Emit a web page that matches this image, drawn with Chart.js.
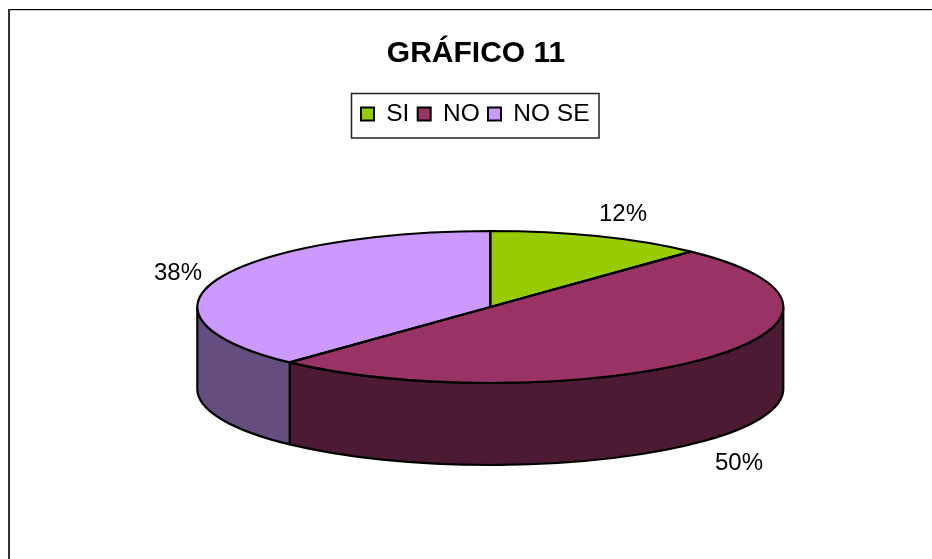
<!DOCTYPE html>
<html>
<head>
<meta charset="utf-8">
<style>html,body{margin:0;padding:0;background:#fff}canvas{display:block}</style>
<script src="https://cdn.jsdelivr.net/npm/chart.js@4"></script>
</head>
<body>
<canvas id="c" width="932" height="559"></canvas>
<script>
const categories = ['SI', 'NO', 'NO SE'];
const values = [12, 50, 38];
const colors = ['#99CC00', '#993366', '#CC99FF'];
const sideColors = ['#4D6600', '#4D1A33', '#664D80'];
const titleText = 'GRÁFICO 11';
const labelSpots = [[623, 214], [739, 463], [178, 273]];

const CX = 490.3, CY = 307, RX = 293, RY = 76, DEPTH = 82;
const FONT = '"Liberation Sans", Arial, sans-serif';

const pie3d = {
  id: 'pie3d',
  afterLayout(chart) {
    chart.chartArea = {left: CX - 300, right: CX + 300, top: CY - 300, bottom: CY + 300, width: 600, height: 600};
    const t = chart.titleBlock;
    t.left = 376; t.right = 576; t.top = 36; t.bottom = 76;
    const l = chart.legend;
    l.left = 352.7; l.right = 600; l.top = 93.5; l.bottom = 138;
  },
  beforeDraw(chart) {
    const ctx = chart.ctx;
    ctx.save();
    ctx.fillStyle = '#fff';
    ctx.fillRect(0, 0, 932, 559);
    ctx.fillStyle = '#000';
    ctx.fillRect(8, 9, 924, 1);
    ctx.fillStyle = '#c8c8c8';
    ctx.fillRect(10, 10, 922, 1);
    ctx.fillStyle = '#333';
    ctx.fillRect(8, 9, 2, 550);
    ctx.strokeStyle = '#222';
    ctx.lineWidth = 1.5;
    ctx.strokeRect(351.5, 93.5, 247.5, 44.5);
    ctx.restore();
  },
  beforeDatasetsDraw(chart) {
    const ctx = chart.ctx;
    const arcs = chart.getDatasetMeta(0).data;
    ctx.save();
    ctx.lineWidth = 2.2;
    ctx.strokeStyle = '#000';
    ctx.lineJoin = 'round';
    arcs.forEach((arc, i) => {
      const a = Math.max(arc.startAngle, 0), b = Math.min(arc.endAngle, Math.PI);
      if (b <= a) return;
      ctx.beginPath();
      ctx.ellipse(arc.x, arc.y, RX, RY, 0, a, b);
      ctx.ellipse(arc.x, arc.y + DEPTH, RX, RY, 0, b, a, true);
      ctx.closePath();
      ctx.fillStyle = sideColors[i];
      ctx.fill();
      ctx.stroke();
    });
    ctx.restore();
    ctx.save();
    ctx.translate(CX, CY);
    ctx.scale(1, RY / RX);
    ctx.translate(-CX, -CY);
  },
  afterDatasetsDraw(chart) {
    const ctx = chart.ctx;
    ctx.restore();
    const arcs = chart.getDatasetMeta(0).data;
    const total = values.reduce((s, v) => s + v, 0);
    ctx.save();
    ctx.lineWidth = 2.2;
    ctx.strokeStyle = '#000';
    ctx.lineJoin = 'round';
    arcs.forEach((arc) => {
      ctx.beginPath();
      ctx.moveTo(arc.x, arc.y);
      ctx.ellipse(arc.x, arc.y, RX, RY, 0, arc.startAngle, arc.endAngle);
      ctx.closePath();
      ctx.stroke();
    });
    ctx.fillStyle = '#000';
    ctx.font = '24px ' + FONT;
    ctx.textAlign = 'center';
    ctx.textBaseline = 'middle';
    values.forEach((v, i) => {
      ctx.fillText(Math.round(v / total * 100) + '%', labelSpots[i][0], labelSpots[i][1]);
    });
    ctx.restore();
  }
};

new Chart(document.getElementById('c'), {
  type: 'pie',
  plugins: [pie3d],
  data: {
    labels: categories,
    datasets: [{data: values, backgroundColor: colors, borderWidth: 0, radius: RX}]
  },
  options: {
    responsive: false,
    devicePixelRatio: 1,
    animation: false,
    events: [],
    layout: {padding: 0},
    plugins: {
      tooltip: {enabled: false},
      title: {
        display: true,
        text: titleText,
        color: '#000',
        padding: 0,
        font: {family: FONT, size: 30, weight: 'bold'}
      },
      legend: {
        display: true,
        position: 'top',
        align: 'start',
        labels: {
          color: '#000',
          boxWidth: 13,
          boxHeight: 13,
          padding: 8.3,
          font: {family: FONT, size: 24.5},
          generateLabels(chart) {
            return categories.map((c, i) => ({
              text: c, fillStyle: colors[i], strokeStyle: '#000',
              lineWidth: 2, hidden: false, index: i
            }));
          }
        }
      }
    }
  }
});
</script>
</body>
</html>
